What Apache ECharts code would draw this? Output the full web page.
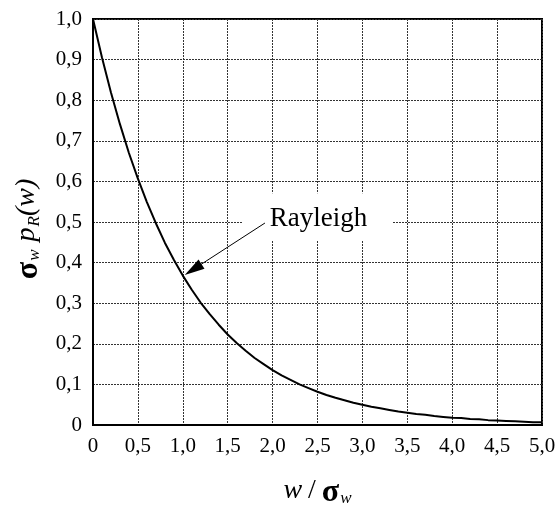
<!DOCTYPE html>
<html>
<head>
<meta charset="utf-8">
<script src="https://cdn.jsdelivr.net/npm/echarts@6/dist/echarts.min.js"></script>
<style>html,body{margin:0;padding:0;background:#fff}#c{width:560px;height:506px}</style>
</head>
<body>
<div id="c"></div>
<script>
// x = w / sigma_w
const xValues = [0.0,0.1,0.2,0.3,0.4,0.5,0.6,0.7,0.8,0.9,1.0,1.1,1.2,1.3,1.4,1.5,1.6,1.7,1.8,1.9,2.0,2.1,2.2,2.3,2.4,2.5,2.6,2.7,2.8,2.9,3.0,3.1,3.2,3.3,3.4,3.5,3.6,3.7,3.8,3.9,4.0,4.1,4.2,4.3,4.4,4.5,4.6,4.7,4.8,4.9,5.0];
// y = sigma_w * p_R(w)
const yValues = [1.000,0.905,0.819,0.741,0.670,0.607,0.549,0.497,0.449,0.407,0.368,0.333,0.301,0.273,0.247,0.223,0.202,0.183,0.165,0.150,0.135,0.122,0.111,0.100,0.091,0.082,0.074,0.067,0.061,0.055,0.050,0.045,0.041,0.037,0.033,0.030,0.027,0.025,0.022,0.020,0.018,0.017,0.015,0.014,0.012,0.011,0.010,0.009,0.008,0.007,0.007];
const seriesName = 'Rayleigh';
// annotation arrow: centre of arrow head (tip lands on the curve near w/σ = 1,0) and the line end at the label
const arrowFrom = [1.115, 0.383];
const arrowTo = [1.915, 0.4975];
const labelAt = [2.5, 0.513];

const serif = 'Liberation Serif';
const fmt = v => v === 0 ? '0' : v.toFixed(1).replace('.', ',');
const richStyles = {
  i: {fontFamily: serif, fontStyle: 'italic', fontSize: 28, color: '#000', verticalAlign: 'top', lineHeight: 30},
  n: {fontFamily: serif, fontSize: 28, color: '#000', verticalAlign: 'top', lineHeight: 30, padding: [0, 6, 0, 6]},
  s: {fontFamily: serif, fontWeight: 'bold', fontSize: 32, color: '#000', verticalAlign: 'top', lineHeight: 30},
  sub: {fontFamily: serif, fontStyle: 'italic', fontSize: 17, color: '#000', verticalAlign: 'bottom', lineHeight: 18, padding: [14, 0, 0, 1]},
  subg: {fontFamily: serif, fontStyle: 'italic', fontSize: 17, color: '#000', verticalAlign: 'bottom', lineHeight: 18, padding: [14, 8, 0, 1]}
};

const chart = echarts.init(document.getElementById('c'));
chart.setOption({
  animation: false,
  backgroundColor: '#fff',
  grid: {left: 93, top: 19, right: 18, bottom: 81, containLabel: false, outerBoundsMode: 'none',
    show: true, borderColor: '#000', borderWidth: 2, backgroundColor: 'transparent'},
  xAxis: {
    type: 'value', min: 0, max: 5, interval: 0.5,
    axisLine: {show: true, lineStyle: {color: '#000', width: 2}},
    axisTick: {show: false},
    axisLabel: {color: '#000', fontFamily: serif, fontSize: 21, margin: 11, formatter: fmt},
    splitLine: {show: true, lineStyle: {color: '#333', type: [2, 1], width: 1}},
    name: '{i|w}{n|/}{s|σ}{sub|w}',
    nameLocation: 'middle', nameGap: 52,
    nameTextStyle: {rich: richStyles}
  },
  yAxis: {
    type: 'value', min: 0, max: 1, interval: 0.1,
    axisLine: {show: true, lineStyle: {color: '#000', width: 2}},
    axisTick: {show: false},
    axisLabel: {color: '#000', fontFamily: serif, fontSize: 21, margin: 11, formatter: fmt},
    splitLine: {show: true, lineStyle: {color: '#333', type: [2, 1], width: 1}},
    name: '{s|σ}{subg|w}{i|p}{sub|R}{i|(w)}',
    nameLocation: 'middle', nameGap: 50, nameRotate: 90,
    nameTextStyle: {rich: richStyles, padding: [0, 14, 0, 0]}
  },
  series: [{
    name: seriesName,
    type: 'line',
    data: xValues.map((x, i) => [x, yValues[i]]),
    showSymbol: false,
    smooth: false,
    lineStyle: {color: '#000', width: 2},
    z: 4,
    markPoint: {
      z: 3,
      symbol: 'rect', symbolSize: [151, 47],
      itemStyle: {color: '#fff'},
      label: {show: true, position: 'inside', formatter: seriesName, color: '#000', fontFamily: serif, fontSize: 27, offset: [1, 2]},
      data: [{coord: labelAt}]
    },
    markLine: {
      z: 6,
      silent: true,
      symbol: ['triangle', 'none'], symbolSize: [11, 20],
      lineStyle: {color: '#000', width: 1, type: 'solid'},
      label: {show: false},
      data: [[{coord: arrowFrom}, {coord: arrowTo}]]
    }
  }]
});
</script>
</body>
</html>
